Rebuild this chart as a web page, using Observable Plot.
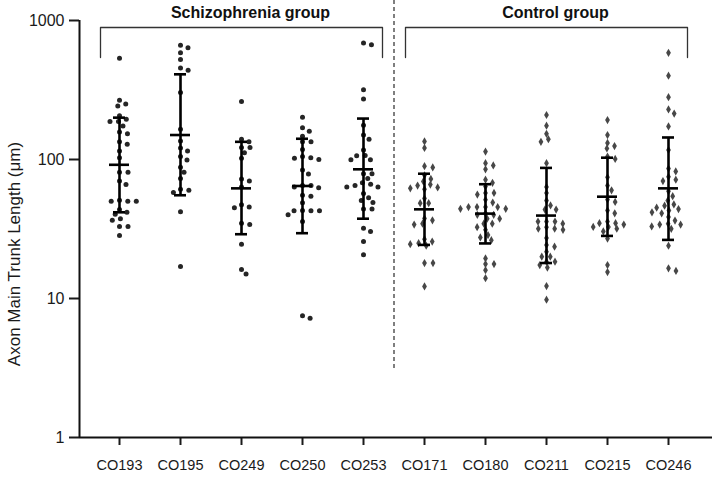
<!DOCTYPE html>
<html>
<head>
<meta charset="utf-8">
<script src="https://cdn.jsdelivr.net/npm/d3@7"></script>
<script src="https://cdn.jsdelivr.net/npm/@observablehq/plot@0.6"></script>
<style>
  body { margin: 0; background: #fff; }
</style>
</head>
<body>
<div id="chart"></div>
<script>
// ---- Data ----
const groups = ["CO193","CO195","CO249","CO250","CO253","CO171","CO180","CO211","CO215","CO246"];
const isControl = [false,false,false,false,false,true,true,true,true,true];

const co193 = [535,267,251,243,206,195,188,188,174,158,153,134,129,115,103,81,81,70,66,51,50,50,50,43.6,41.7,40.3,37.5,36.5,33,33,28.4];
const co195 = [664,636,585,524,456,438,303,165,136,121,115,105,99,88,81,73,61,60,58,42,17];
const co249 = [261,140,134,122,122,112,102,72.5,70,63.5,47.3,45.5,45,34.8,34,24.6,16.2,15];
const co250 = [201,169,160,147,134,134,118,105,103,102,100,84,78.7,65,65,63.5,62.5,55.3,54.5,48.8,43,42.7,42.7,42.7,40,35.8,7.5,7.2];
const co253 = [690,668,318,272,176,150,140,117,107,106.5,99.6,99.6,79,79,73,68,66.5,65,63.5,63.5,57,53,50.6,49,44,44,32,30.4,25.7,20.6];
const co171 = [135,121,89.6,87.7,77,72.5,69.5,66,65,63,62,61,52.5,48.5,48.5,37.7,36.5,34.5,34,26.7,25.7,25,24.6,24,18,18,12.2];
const co180 = [114,94,90.6,85,71.6,68,64,57.5,57.5,56,51.4,49,45.5,45.5,45.5,45.5,44.2,44.2,41,40,40,37.5,37.5,34.5,34.5,32.6,31.2,28.6,27.5,26.3,19.4,17.7,17.7,16,14];
const co211 = [209,175,153,140,134,94,63.5,57.5,50.6,46.7,43.6,43.6,35.8,35.8,35.8,34.5,32.6,31.8,31.8,31.2,27.2,24.3,23.6,21.7,20,20,18.4,18.4,17.4,16.7,12.3,9.8];
const co215 = [192,150,131.6,125,120,105,101,74.5,65,60,51.5,49.5,43,41,35.8,34.8,34.8,34,32.7,32.7,31.8,30.4,27,17.4,15.5];
const co246 = [585,401,281,229,214,173,117,86,82,75,71.6,70,59,54.5,50.6,47.5,46.5,45,44,43,41.7,41,38.6,36.4,34.5,34,34,33,31.7,24,16.5,15.8];
const seriesValues = [co193,co195,co249,co250,co253,co171,co180,co211,co215,co246];

// geometric mean and SD bounds
const means  = [91.6,150,62,64.5,85,43.8,40.8,39.5,54,62];
const sdLow  = [41.7,55.3,29,29.5,37.5,24.3,24.9,18,28.2,26.4];
const sdHigh = [200,410,134,141,197,79,66.4,87,103,144];

const yTicks = [1,10,100,1000];
const yLabel = "Axon Main Trunk Length (μm)";
const brackets = [
  {label: "Schizophrenia group", first: 0, last: 4},
  {label: "Control group", first: 5, last: 9}
];

// ---- Layout ----
const W = 715, H = 479;
const mL = 79, mR = 3, mT = 20, mB = 42;
const step = 61;            // px between groups
const first = 119;          // px of first group
const xDomain = [(mL - first) / step, (W - mR - first) / step];
const yRange = [H - mB, mT];

// beeswarm offsets, computed through the y scale
const ys = Plot.scale({y: {type: "log", domain: [1, 1000], range: yRange}});
function swarm(values, Dx, Dy) {
  const placed = [], out = [];
  for (const v of values) {
    const py = ys.apply(v);
    const cands = [0];
    for (const p of placed) {
      const dy = Math.abs(p.y - py);
      if (dy < Dy) {
        const dx = Dx * Math.sqrt(1 - (dy / Dy) ** 2);
        cands.push(p.x + dx, p.x - dx);
      }
    }
    cands.sort((a, b) => Math.abs(a) - Math.abs(b) || b - a);
    const c = cands.find(c => placed.every(p => ((p.x - c) / Dx) ** 2 + ((p.y - py) / Dy) ** 2 >= 0.999));
    placed.push({x: c, y: py});
    out.push(c);
  }
  return out;
}

const points = [];
seriesValues.forEach((vals, i) => {
  const offs = swarm(vals, 8.5, 5.5);
  vals.forEach((v, k) => points.push({g: groups[i], i, v, x: i + offs[k] / step, control: isControl[i]}));
});
const stats = groups.map((g, i) => ({g, i, mean: means[i], lo: sdLow[i], hi: sdHigh[i]}));

const capH = 6 / step, meanH = 10 / step, brPad = 19 / step;
const bracketTop = ys.invert(27), bracketBot = ys.invert(57);
const bracketLines = brackets.flatMap(b => [
  {b: b.label, x: b.first - brPad, y: bracketBot},
  {b: b.label, x: b.first - brPad, y: bracketTop},
  {b: b.label, x: b.last + brPad, y: bracketTop},
  {b: b.label, x: b.last + brPad, y: bracketBot}
]);

const chart = Plot.plot({
  width: W, height: H,
  marginLeft: mL, marginRight: mR, marginTop: mT, marginBottom: mB,
  style: {fontFamily: "'Liberation Sans', Arial, sans-serif", background: "white", color: "#1a1a1a"},
  x: {type: "linear", domain: xDomain},
  y: {type: "log", domain: [1, 1000], range: yRange},
  marks: [
    // separator
    Plot.ruleX([4.5], {y1: ys.invert(368), y2: ys.invert(0), stroke: "#555", strokeWidth: 1.5, strokeDasharray: "4,3"}),
    // brackets
    Plot.line(bracketLines, {x: "x", y: "y", z: "b", stroke: "#333", strokeWidth: 1.3}),
    Plot.text(brackets, {x: d => (d.first + d.last) / 2, text: "label", frameAnchor: "top", lineAnchor: "middle", dy: -8, dx: 9, fontWeight: "bold", fontSize: 16, fill: "#111"}),
    // points
    Plot.dot(points.filter(d => !d.control), {x: "x", y: "v", r: 2.5, fill: "#252525", symbol: "circle"}),
    Plot.dot(points.filter(d => d.control), {x: "x", y: "v", r: 2.5, fill: "#474747", symbol: "diamond"}),
    // error bars
    Plot.ruleX(stats, {x: "i", y1: "lo", y2: "hi", stroke: "black", strokeWidth: 2.6}),
    Plot.ruleY(stats, {y: "lo", x1: d => d.i - capH, x2: d => d.i + capH, stroke: "black", strokeWidth: 2.6}),
    Plot.ruleY(stats, {y: "hi", x1: d => d.i - capH, x2: d => d.i + capH, stroke: "black", strokeWidth: 2.6}),
    Plot.ruleY(stats, {y: "mean", x1: d => d.i - meanH, x2: d => d.i + meanH, stroke: "black", strokeWidth: 2.6}),
    // axes
    Plot.axisY({ticks: yTicks, tickFormat: d => String(d), tickSize: 10, tickPadding: 5, fontSize: 16, label: null, strokeWidth: 2}),
    Plot.axisX({ticks: d3.range(groups.length), tickFormat: i => groups[i], tickSize: 8, tickPadding: 14, fontSize: 14.5, label: null, strokeWidth: 2}),
    Plot.ruleX([xDomain[0]], {y1: 1, y2: 1000, stroke: "#111", strokeWidth: 2}),
    Plot.ruleY([1], {x1: xDomain[0], x2: xDomain[1], stroke: "#111", strokeWidth: 2}),
    Plot.text([yLabel], {text: d => d, frameAnchor: "left", textAnchor: "middle", lineAnchor: "middle", rotate: -90, dx: -65, dy: 25, fontSize: 17, fill: "#1a1a1a"})
  ]
});
document.getElementById("chart").appendChild(chart);
</script>
</body>
</html>
